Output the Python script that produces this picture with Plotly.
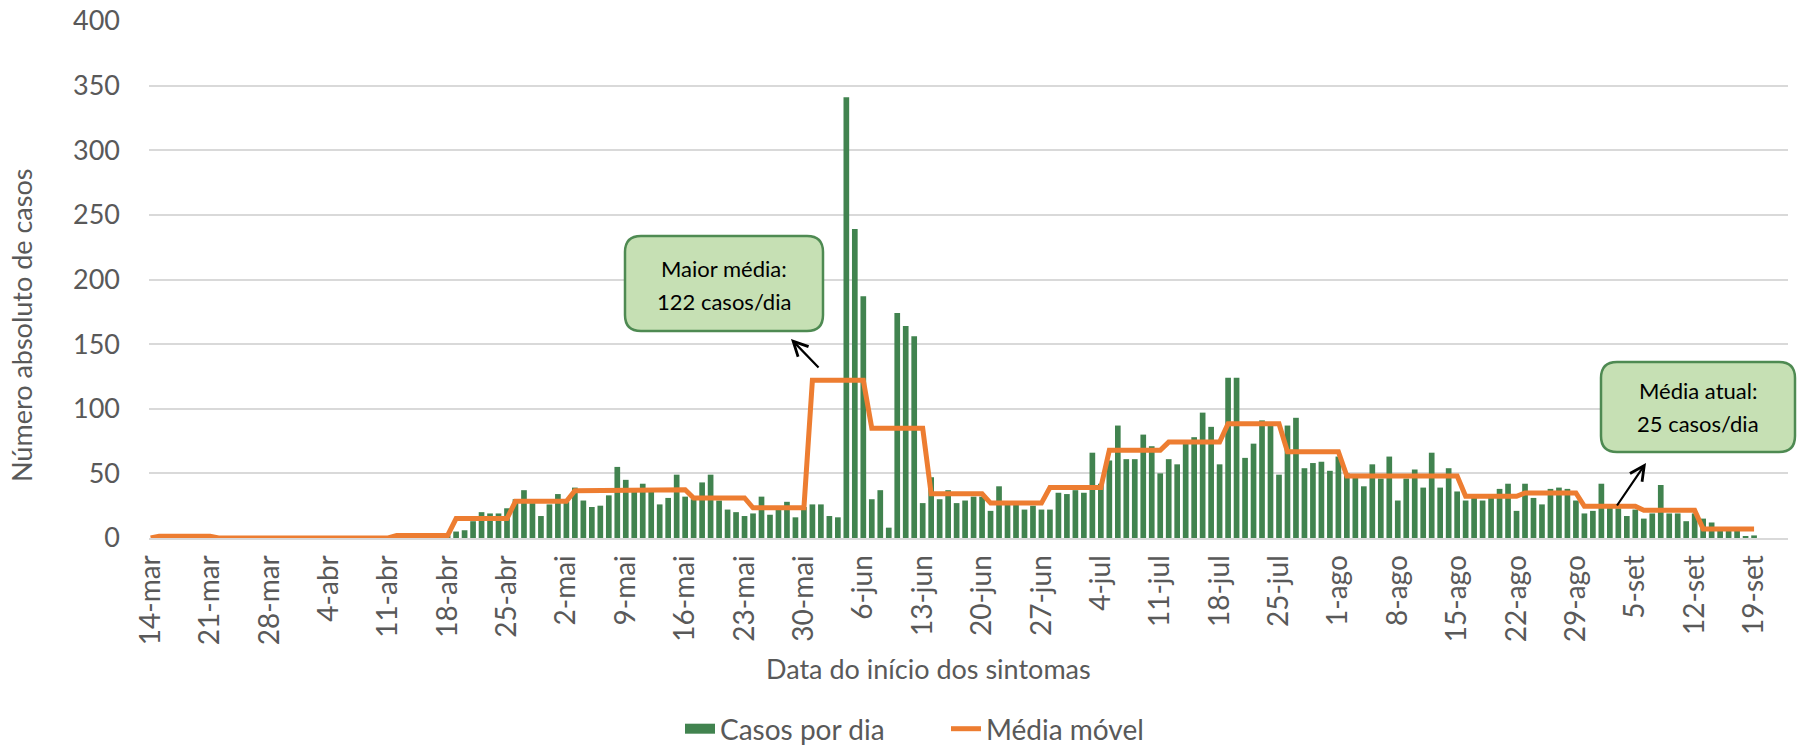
import plotly.graph_objects as go
import pandas as pd

# ---------------- data ----------------
MESES = {3: "mar", 4: "abr", 5: "mai", 6: "jun", 7: "jul", 8: "ago", 9: "set"}
datas = pd.date_range("2020-03-14", "2020-09-19", freq="D")
categorias = [f"{d.day}-{MESES[d.month]}" for d in datas]

casos_por_dia = (
    [0]
    + [1, 2, 1, 2, 1, 2, 1]
    + [0, 0, 0, 0, 0, 0, 0]
    + [0, 0, 0, 0, 0, 0, 0]
    + [0, 0, 0, 0, 0, 0, 0]
    + [1, 2, 2, 3, 2, 2, 2]
    + [5, 6, 13, 20, 19, 19, 23]
    + [30, 37, 27, 17, 26, 34, 28]
    + [39, 29, 24, 25, 33, 55, 45]
    + [37, 42, 38, 26, 31, 49, 32]
    + [30, 43, 49, 29, 22, 20, 17]
    + [19, 32, 18, 23, 28, 16, 24]
    + [26, 26, 17, 16, 341, 239, 187]
    + [30, 37, 8, 174, 164, 156, 27]
    + [47, 30, 37, 27, 29, 32, 32]
    + [21, 40, 26, 26, 22, 25, 22]
    + [22, 35, 34, 37, 35, 66, 42]
    + [60, 87, 61, 61, 80, 71, 50]
    + [61, 57, 75, 78, 97, 86, 57]
    + [124, 124, 62, 73, 91, 88, 49]
    + [87, 93, 54, 58, 59, 52, 63]
    + [50, 49, 40, 57, 46, 63, 29]
    + [46, 53, 39, 66, 39, 54, 36]
    + [29, 31, 29, 31, 38, 42, 21]
    + [42, 31, 26, 38, 39, 38, 29]
    + [19, 21, 42, 24, 23, 17, 22]
    + [15, 19, 41, 19, 19, 13, 19]
    + [15, 12, 7, 6, 6, 1, 2]
)

# weekly moving average (step line)
media_movel = (
    [0]
    + [1.4] * 7
    + [0] * 21
    + [2] * 7
    + [15] * 7
    + [28.4] * 7
    + [36.6] * 7
    + [37.4] * 7
    + [31] * 7
    + [23.4] * 7
    + [122] * 7
    + [85] * 7
    + [34.2] * 7
    + [27] * 7
    + [39] * 7
    + [67.8] * 7
    + [74.2] * 7
    + [88.4] * 7
    + [66.8] * 7
    + [47.9] * 7
    + [47.9] * 7
    + [32.3] * 7
    + [34.9] * 7
    + [24.5] * 7
    + [21.4] * 7
    + [7] * 7
)

rotulos_eixo = ["14-mar", "21-mar", "28-mar", "4-abr", "11-abr", "18-abr", "25-abr",
                "2-mai", "9-mai", "16-mai", "23-mai", "30-mai", "6-jun", "13-jun",
                "20-jun", "27-jun", "4-jul", "11-jul", "18-jul", "25-jul", "1-ago",
                "8-ago", "15-ago", "22-ago", "29-ago", "5-set", "12-set", "19-set"]
y_ticks = [0, 50, 100, 150, 200, 250, 300, 350, 400]

# ---------------- style ----------------
W, H = 1798, 747
ML, MR, MT, MB = 149, 10, 21, 209
PW, PH = W - ML - MR, H - MT - MB
FONT = "Lato, 'Open Sans', sans-serif"
GRAY = "#595959"
GREEN = "#41834F"
ORANGE = "#ED7D31"


def px(x):
    return (x - ML) / PW


def py(y):
    return (H - MB - y) / PH


def rounded_box(x0, y0, x1, y1, r):
    rx, ry = r / PW, r / PH
    X0, X1, Y0, Y1 = px(x0), px(x1), py(y1), py(y0)
    return (f"M {X0+rx},{Y0} L {X1-rx},{Y0} Q {X1},{Y0} {X1},{Y0+ry} "
            f"L {X1},{Y1-ry} Q {X1},{Y1} {X1-rx},{Y1} L {X0+rx},{Y1} "
            f"Q {X0},{Y1} {X0},{Y1-ry} L {X0},{Y0+ry} Q {X0},{Y0} {X0+rx},{Y0} Z")


fig = go.Figure()
fig.add_trace(go.Bar(x=categorias, y=casos_por_dia, name="Casos por dia",
                     legendgroup="casos", showlegend=False,
                     marker=dict(color=GREEN, line=dict(width=0))))
# legend proxy giving the wide rectangular swatch of the original legend
fig.add_trace(go.Scatter(x=[None], y=[None], name="Casos por dia", mode="lines",
                         legendgroup="casos", hoverinfo="skip",
                         line=dict(color=GREEN, width=18)))
fig.add_trace(go.Scatter(x=categorias, y=media_movel, name="Média móvel", mode="lines",
                         line=dict(color=ORANGE, width=5)))

shapes = []
for (bx0, by0, bx1, by1) in [(625, 236, 823, 331), (1601, 362, 1795, 452)]:
    shapes.append(dict(type="path", xref="paper", yref="paper",
                       path=rounded_box(bx0, by0, bx1, by1, 16),
                       fillcolor="#C6E0B4", line=dict(color="#4E8A52", width=2.5),
                       layer="above"))

annotations = [
    dict(text="Número absoluto de casos", textangle=-90, x=px(21), y=py(326),
         xref="paper", yref="paper", showarrow=False, xanchor="center", yanchor="middle",
         font=dict(family=FONT, size=27, color=GRAY)),
    dict(text="Data do início dos sintomas", x=px(928), y=py(668),
         xref="paper", yref="paper", showarrow=False, xanchor="center", yanchor="middle",
         font=dict(family=FONT, size=27, color=GRAY)),
]
for (cx, cy, t) in [(724, 268, "Maior média:"), (724, 301, "122 casos/dia"),
                    (1698, 390, "Média atual:"), (1698, 423, "25 casos/dia")]:
    annotations.append(dict(text=t, x=px(cx), y=py(cy), xref="paper", yref="paper",
                            showarrow=False, xanchor="center", yanchor="middle",
                            font=dict(family=FONT, size=22, color="#000000")))
for (hx, hy, tx, ty) in [(791, 339, 820, 369), (1646, 463, 1616, 507)]:
    annotations.append(dict(text="", x=px(hx), y=py(hy), xref="paper", yref="paper",
                            showarrow=True, ax=tx - hx, ay=ty - hy, arrowhead=5,
                            arrowsize=1.3, arrowwidth=2.2, arrowcolor="#000000",
                            standoff=0, startstandoff=0))

fig.update_layout(
    width=W, height=H, autosize=False,
    margin=dict(l=ML, r=MR, t=MT, b=MB, autoexpand=False),
    paper_bgcolor="white", plot_bgcolor="white",
    bargap=0.33,
    font=dict(family=FONT, color=GRAY),
    showlegend=True,
    legend=dict(orientation="h", x=px(680), y=py(729), xanchor="left", yanchor="middle",
                font=dict(family=FONT, size=28, color=GRAY),
                entrywidth=221, entrywidthmode="pixels",
                bgcolor="rgba(0,0,0,0)", itemclick=False, itemdoubleclick=False),
    shapes=shapes,
    annotations=annotations,
    xaxis=dict(type="category", range=[-0.2, 193.0], tickmode="array",
               tickvals=rotulos_eixo, ticktext=rotulos_eixo, tickangle=-90,
               tickfont=dict(family=FONT, size=28, color=GRAY), ticks="",
               showgrid=False, showline=True, linecolor="#D9D9D9", linewidth=2,
               ticklabelstandoff=4, fixedrange=True),
    yaxis=dict(range=[0, 400], tickmode="array", tickvals=y_ticks,
               tickfont=dict(family=FONT, size=27, color=GRAY), ticks="",
               showgrid=True, gridcolor="#D9D9D9", gridwidth=1.5, zeroline=False,
               showline=False, ticklabelstandoff=28, fixedrange=True),
)

fig.write_html("out.html", config={"displayModeBar": False}, post_script=(
    "document.body.style.margin='0';document.body.style.overflow='hidden';"
    "document.documentElement.style.overflow='hidden';"))
